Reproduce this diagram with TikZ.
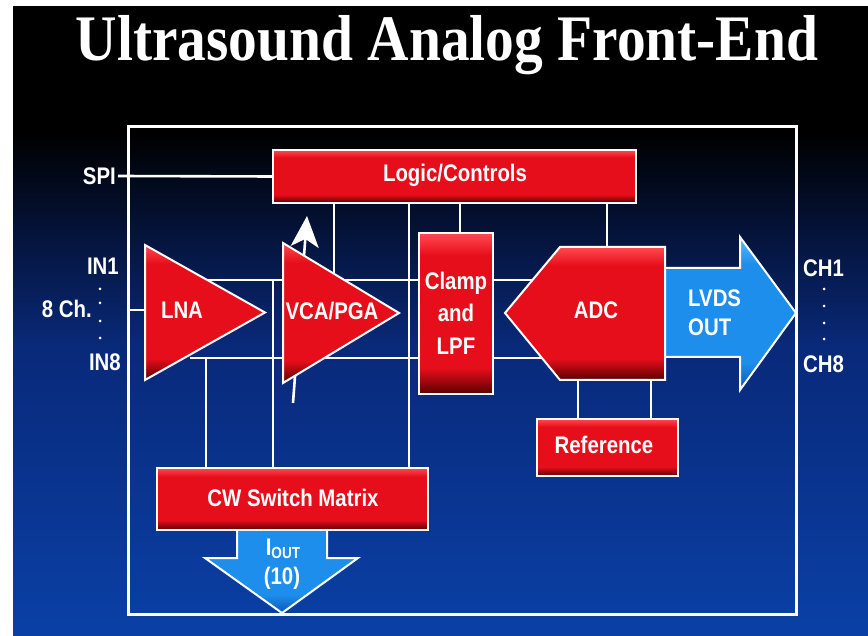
\documentclass[tikz,border=0pt]{standalone}
\usepackage{fontspec}
\setmainfont{Liberation Sans}
\newfontfamily\titlefont{Liberation Serif}
\usepackage{graphicx}
\usetikzlibrary{arrows.meta,calc}
\definecolor{rmain}{HTML}{E60E1A}
\definecolor{rlt}{HTML}{FF4A50}
\definecolor{rdk}{HTML}{5A0000}
\definecolor{bmain}{HTML}{1E8EEC}
\definecolor{blt}{HTML}{5CBAFC}
\definecolor{bdk}{HTML}{0A58B8}
\definecolor{bgbot}{HTML}{0A40A6}
\definecolor{bgmid}{HTML}{09297A}
\definecolor{bgtop}{HTML}{000000}
\pgfdeclareverticalshading{redbox}{100bp}{color(0bp)=(rdk); color(25bp)=(rdk); color(33bp)=(rmain); color(68bp)=(rmain); color(75bp)=(rlt); color(100bp)=(rlt)}
\pgfdeclareverticalshading{bluebox}{100bp}{color(0bp)=(bdk); color(25bp)=(bdk); color(34bp)=(bmain); color(66bp)=(bmain); color(75bp)=(blt); color(100bp)=(blt)}
\pgfdeclareverticalshading{bgsh}{100bp}{color(0bp)=(bgbot); color(25bp)=(bgbot); color(48bp)=(bgmid); color(65bp)=(bgtop); color(100bp)=(bgtop)}
\pgfdeclarelayer{back}
\pgfdeclarelayer{wires}
\pgfsetlayers{back,wires,main}
\newcommand\cn[1]{\scalebox{0.85}[1]{#1}}
\begin{document}
\begin{tikzpicture}[x=1pt,y=-1pt,
  wire/.style={draw=white, line width=2.6pt},
  redshape/.style={draw=white, line width=2pt, shade, shading=redbox, line join=miter},
  blueshape/.style={draw=white, line width=2pt, shade, shading=bluebox, line join=miter},
  redbox/.style={redshape, inner sep=0pt, text=white, font=\lbl},
  lbl/.style={text=white, inner sep=0pt, font=\lbl},
  dotm/.style={fill=white, circle, inner sep=0pt, minimum size=3pt}]
\newcommand\lbl{\fontsize{24}{32.5}\selectfont\bfseries}
\useasboundingbox (0,0) rectangle (868,636);
\begin{pgfonlayer}{back}
\fill[white] (0,0) rectangle (868,636);
\shade[shading=bgsh] (13,7) rectangle (868,636);
\end{pgfonlayer}
% title
\node[font=\titlefont\fontsize{58}{60}\selectfont\bfseries, text=white, anchor=base, inner sep=0pt] (title) at (447,61) {\scalebox{0.99}[1.12]{Ultrasound Analog Front-End}};
% frame
\begin{pgfonlayer}{wires}
\node[draw=white, line width=3pt, minimum width=668pt, minimum height=487pt, inner sep=0pt] (frame) at (462,370.5) {};
\end{pgfonlayer}
% labels outside
\node[lbl, anchor=east] (spi) at (116,176) {\cn{SPI}};
\node[lbl, anchor=east] (in1) at (119,266) {\cn{IN1}};
\node[lbl, anchor=east] (ch8l) at (92,309) {\cn{8 Ch.}};
\node[lbl, anchor=east] (in8) at (121,362) {\cn{IN8}};
\node[lbl, anchor=west] (ch1) at (803,268) {\cn{CH1}};
\node[lbl, anchor=west] (ch8) at (803,364) {\cn{CH8}};
\foreach \yy [count=\i] in {289,303,321,338} {\node[dotm] (ld\i) at (100,\yy) {};}
\foreach \yy [count=\i] in {289,306,323,339} {\node[dotm] (rd\i) at (824,\yy) {};}
% blue arrows
\path[blueshape] (640,268) -- (740,268) -- (740,237) -- (796,313) -- (740,390) -- (740,357) -- (640,357);
\path[blueshape] (237,510) -- (237,558) -- (205,558) -- (282,613) -- (358,558) -- (327,558) -- (327,510);
% VCA control arrow
\coordinate (ctlA) at (293,403);
\coordinate (ctlB) at (307,216);
\draw[white, line width=2.6pt, -{Stealth[length=31pt,width=28pt,inset=8pt]}] (ctlA) -- (ctlB);
% red boxes
\node[redbox, minimum width=363pt, minimum height=53pt] (logic) at (454.5,176.5) {};
\node[lbl] (logict) at (455,175) {\cn{Logic/Controls}};
\node[redbox, minimum width=74pt, minimum height=161pt] (clamp) at (456,313.5) {};
\node[lbl, align=center] (clampt) at (456,313) {\cn{Clamp}\\\cn{and}\\\cn{LPF}};
\node[redbox, minimum width=141pt, minimum height=57pt] (ref) at (607.5,447.5) {};
\node[lbl] (reft) at (604,445) {\cn{Reference}};
\node[redbox, minimum width=271pt, minimum height=62pt] (cw) at (292.5,499) {};
\node[lbl] (cwt) at (293,498) {\cn{CW Switch Matrix}};
% triangles & ADC
\path[redshape] (145,245) -- (265,312.5) -- (145,380) -- cycle;
\coordinate (lnaW) at (145,310);
\node[lbl] (lna) at (182,310) {\cn{LNA}};
\path[redshape] (283,243) -- (399,313) -- (283,383) -- cycle;
\node[lbl] (vca) at (332,311) {\cn{VCA/PGA}};
\path[redshape] (505,313) -- (560,247) -- (665,247) -- (665,380) -- (560,380) -- cycle;
\coordinate (adcN) at (607,247);
\coordinate (adcS1) at (578,380);
\coordinate (adcS2) at (651,380);
\node[lbl] (adc) at (596,310) {\cn{ADC}};
% arrow texts
\node[lbl, anchor=west, align=left, font=\fontsize{24}{29}\selectfont\bfseries] (lvds) at (688,313) {\cn{LVDS}\\\cn{OUT}};
\node[lbl] (iout) at (283,549) {\cn{I\raisebox{-3pt}{\fontsize{16}{16}\selectfont OUT}}};
\node[lbl] (ten) at (282,578) {\cn{(10)}};
% wires (under the blocks)
\begin{pgfonlayer}{wires}
\draw[wire] ([xshift=2pt]spi.east) -- (logic.west);
\draw[wire] (frame.west |- lnaW) -- (lnaW);
\coordinate (busUa) at (190,280); \coordinate (busUb) at (545,280);
\coordinate (busLa) at (190,358); \coordinate (busLb) at (545,358);
\draw[wire] (busUa) -- (busUb);
\draw[wire] (busLa) -- (busLb);
\draw[wire] (334,0 |- logic.south) -- (334,280);
\draw[wire] (409,0 |- logic.south) -- (409,0 |- cw.north);
\draw[wire] (460,0 |- logic.south) -- (460,0 |- clamp.north);
\draw[wire] (adcN |- logic.south) -- (adcN);
\draw[wire] (206,358) -- (206,0 |- cw.north);
\draw[wire] (273,280) -- (273,0 |- cw.north);
\draw[wire] (adcS1) -- (adcS1 |- ref.north);
\draw[wire] (adcS2) -- (adcS2 |- ref.north);
\end{pgfonlayer}
\end{tikzpicture}
\end{document}
